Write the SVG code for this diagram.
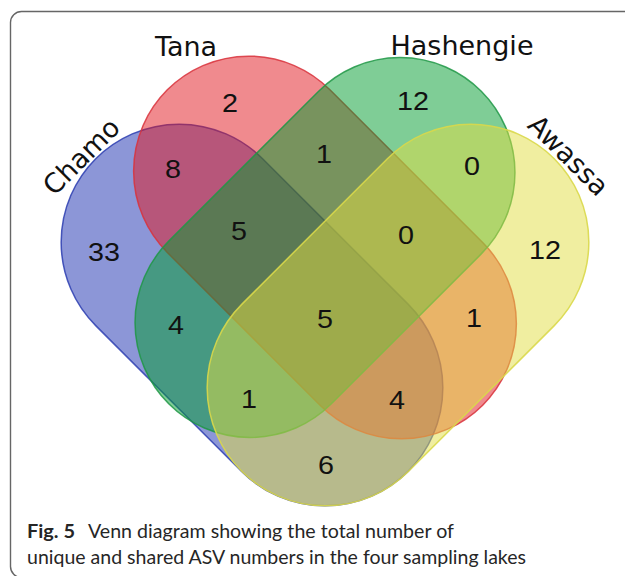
<svg xmlns="http://www.w3.org/2000/svg" width="625" height="576" viewBox="0 0 625 576">
<defs>
<style>
.set{stroke-width:1.5}
.chamo{fill:#192DAF;fill-opacity:.5;stroke:#2B3DB0;stroke-opacity:.85}
.tana{fill:#E1161E;fill-opacity:.5;stroke:#D8323C;stroke-opacity:.85}
.hash{fill:#009B2D;fill-opacity:.5;stroke:#1E9645;stroke-opacity:.85}
.awassa{fill:#E1DD41;fill-opacity:.5;stroke:#D9D84A;stroke-opacity:.9}
.lbl{font-family:"DejaVu Sans",sans-serif;font-size:27px;fill:#111;text-anchor:middle}
.num{font-family:"Liberation Sans",Arial,sans-serif;font-size:25px;fill:#111;text-anchor:middle}
.cap{font-family:Lato,"Open Sans",sans-serif;font-size:19px;fill:#262626}
</style>
</defs>
<rect width="625" height="576" fill="#fff"/>
<rect id="frame" x="10.5" y="11.5" width="640" height="566" rx="11" fill="none" stroke="#666" stroke-width="1.4"/>
<g id="chamo"><rect class="set chamo" transform="translate(252,315) rotate(45)" x="-221" y="-118" width="442" height="236" rx="118"/></g>
<g id="tana"><rect class="set tana" transform="translate(325,247.5) rotate(45)" x="-223" y="-115" width="446" height="230" rx="115"/></g>
<g id="hashengie"><rect class="set hash" transform="translate(325,247.5) rotate(-45)" x="-221" y="-115" width="442" height="230" rx="115"/></g>
<g id="awassa"><rect class="set awassa" transform="translate(398,315) rotate(-45)" x="-221" y="-118" width="442" height="236" rx="118"/></g>
<g id="labels">
<text class="lbl" x="186" y="56">Tana</text>
<text class="lbl" x="462" y="55">Hashengie</text>
<text class="lbl" transform="translate(81,156) rotate(-45)" y="10">Chamo</text>
<text class="lbl" transform="translate(569,155) rotate(45)" y="10">Awassa</text>
</g>
<g id="counts">
<text class="num" transform="translate(230,103) scale(1.15,1)" y="9">2</text>
<text class="num" transform="translate(413,101) scale(1.15,1)" y="9">12</text>
<text class="num" transform="translate(173,169) scale(1.15,1)" y="9">8</text>
<text class="num" transform="translate(324,154) scale(1.15,1)" y="9">1</text>
<text class="num" transform="translate(472,166) scale(1.15,1)" y="9">0</text>
<text class="num" transform="translate(104,252) scale(1.15,1)" y="9">33</text>
<text class="num" transform="translate(239,231) scale(1.15,1)" y="9">5</text>
<text class="num" transform="translate(406,235) scale(1.15,1)" y="9">0</text>
<text class="num" transform="translate(545,250) scale(1.15,1)" y="9">12</text>
<text class="num" transform="translate(176,325) scale(1.15,1)" y="9">4</text>
<text class="num" transform="translate(325,319) scale(1.15,1)" y="9">5</text>
<text class="num" transform="translate(474,318) scale(1.15,1)" y="9">1</text>
<text class="num" transform="translate(249,399) scale(1.15,1)" y="9">1</text>
<text class="num" transform="translate(397,400) scale(1.15,1)" y="9">4</text>
<text class="num" transform="translate(326,465) scale(1.15,1)" y="9">6</text>
</g>
<g id="caption">
<text class="cap" x="27" y="538" font-weight="bold" textLength="48" lengthAdjust="spacingAndGlyphs">Fig. 5</text>
<text class="cap" x="88" y="538" textLength="366" lengthAdjust="spacingAndGlyphs">Venn diagram showing the total number of</text>
<text class="cap" x="27" y="564" textLength="499" lengthAdjust="spacingAndGlyphs">unique and shared ASV numbers in the four sampling lakes</text>
</g>
</svg>
